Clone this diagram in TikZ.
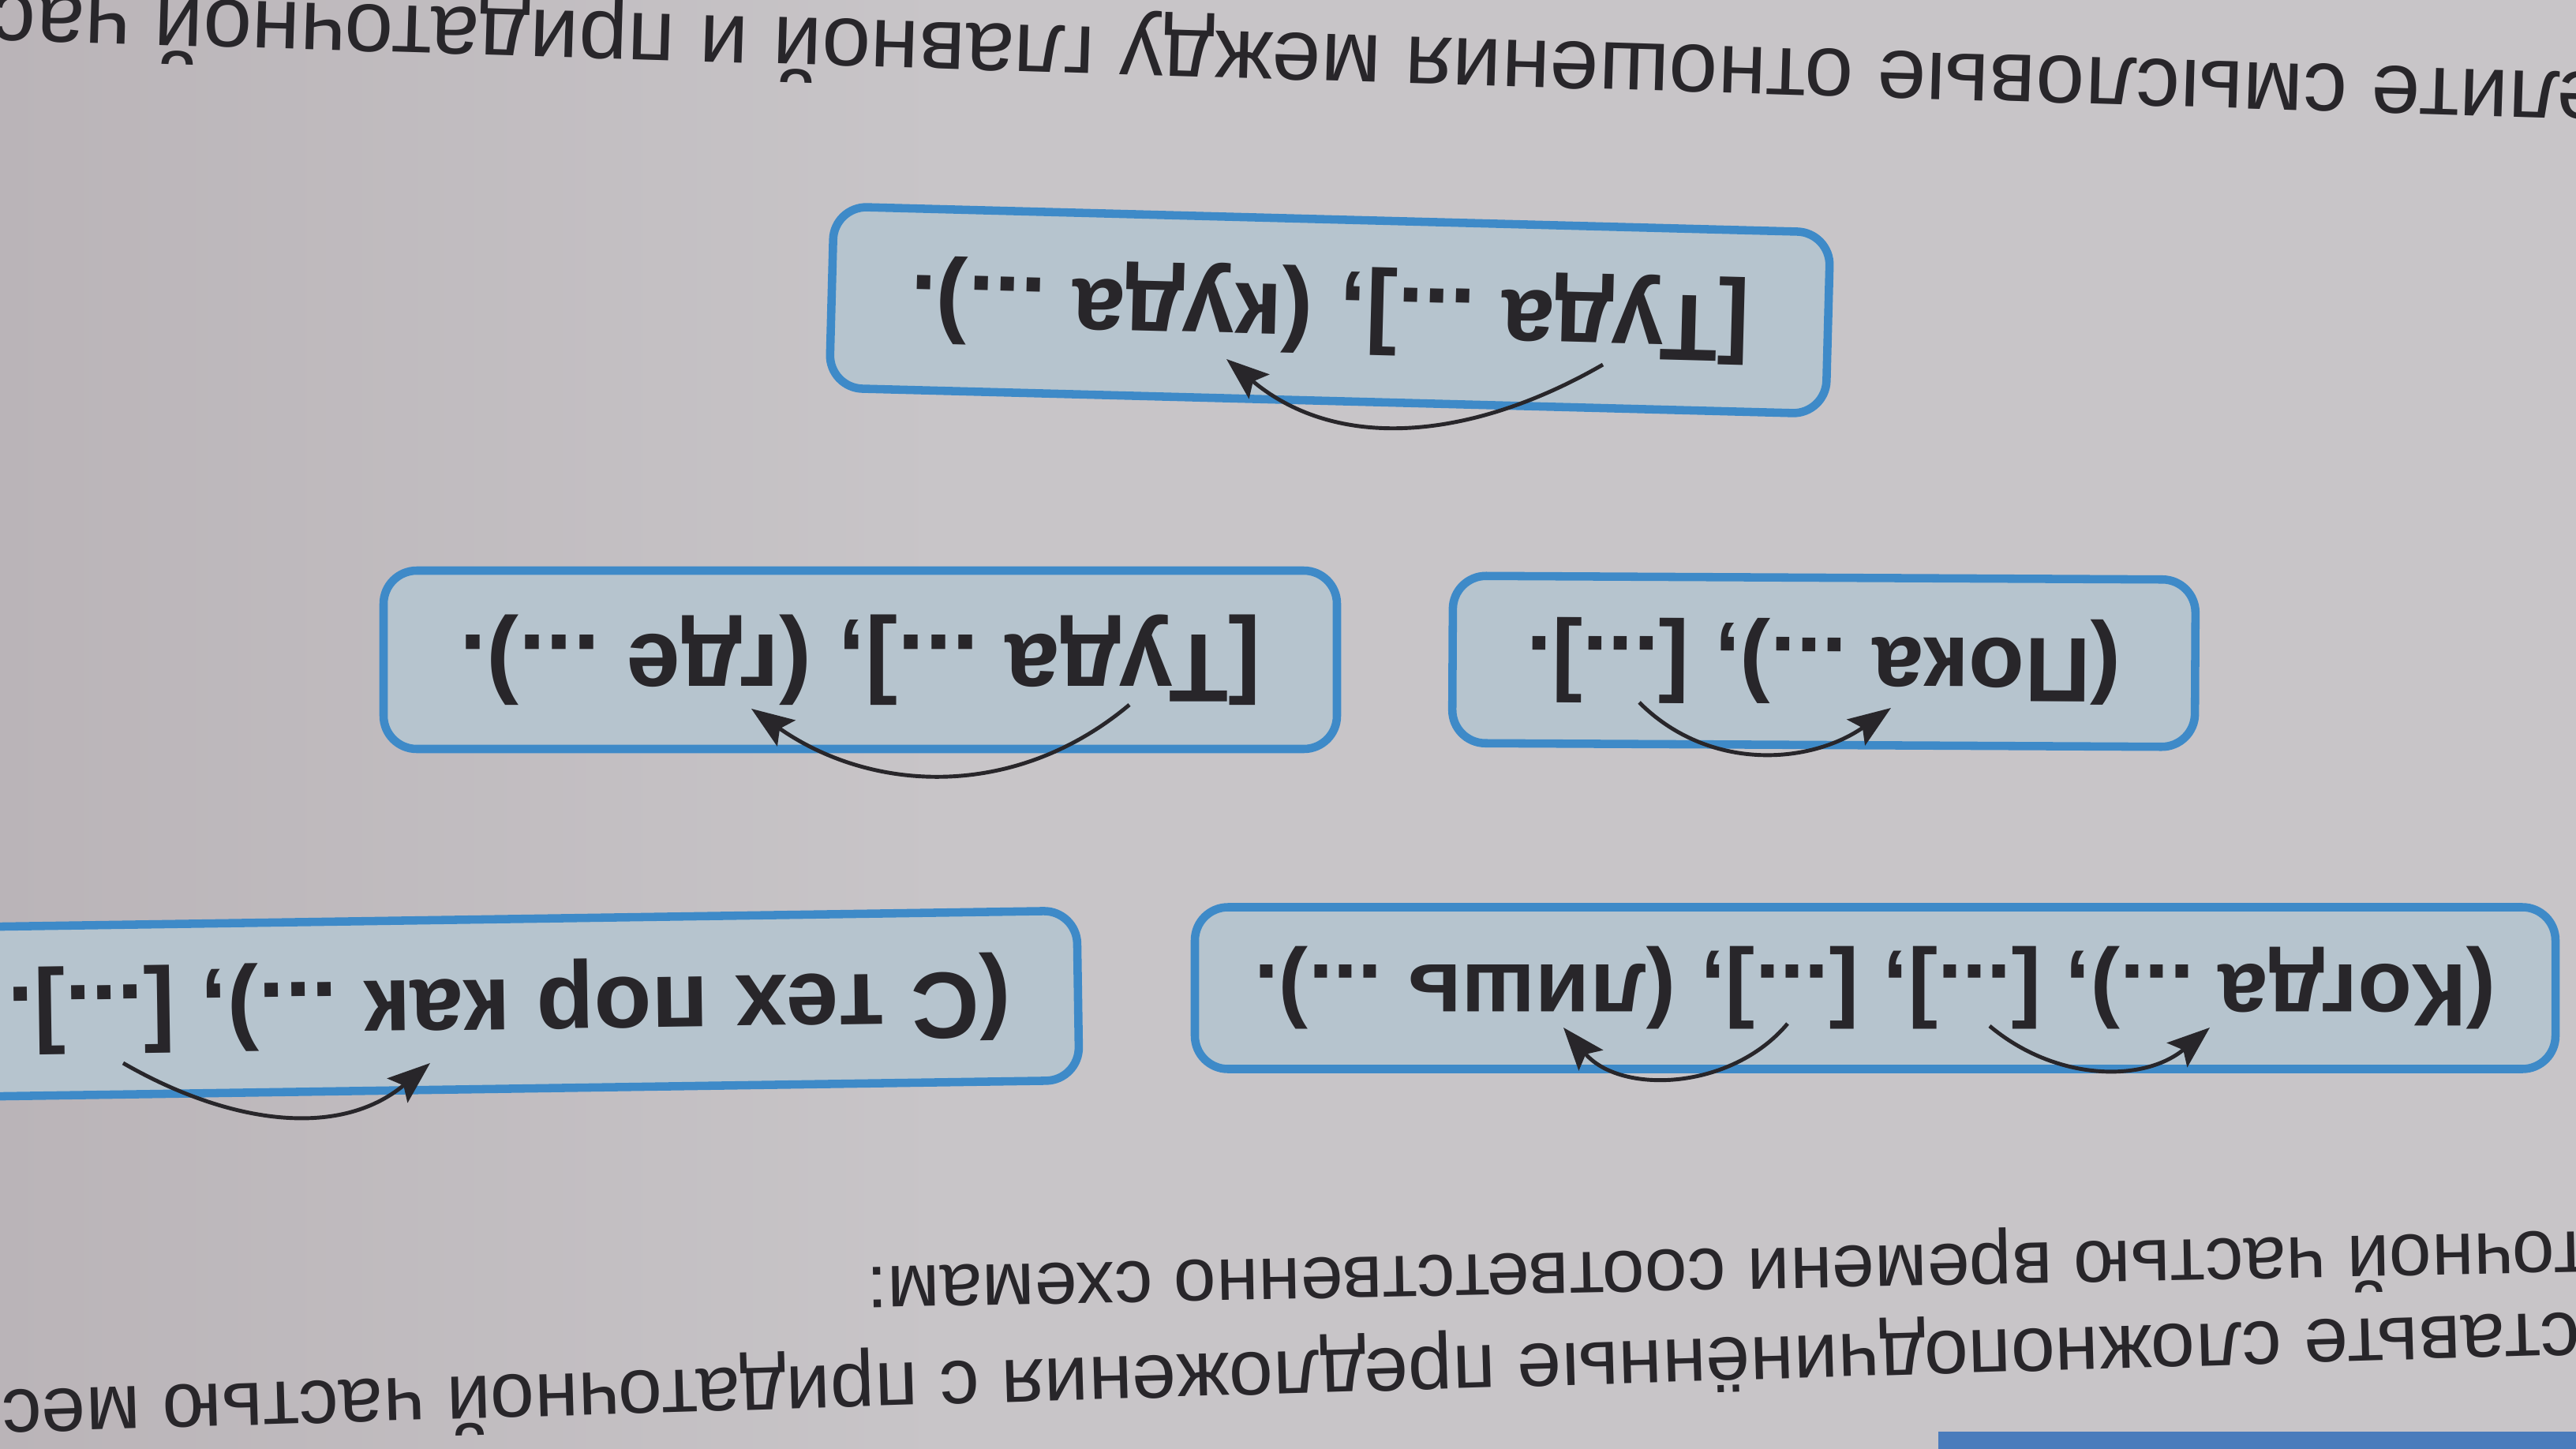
\documentclass[tikz,border=0pt]{standalone}
\usepackage{fontspec}
\setmainfont{Liberation Sans}
\usetikzlibrary{arrows.meta}

\definecolor{paper}{RGB}{200,197,200}
\definecolor{paperdark}{RGB}{186,180,184}
\definecolor{boxfill}{RGB}{182,196,206}
\definecolor{boxline}{RGB}{62,138,200}
\definecolor{ink}{RGB}{40,38,42}
\definecolor{band}{RGB}{74,124,188}

\begin{document}
\begin{tikzpicture}[
    scheme/.style={draw=boxline, line width=3pt, fill=boxfill, rounded corners=0.42cm,
        text=ink, inner sep=0pt},
    task/.style={text=ink, inner sep=0pt, anchor=base west},
    link/.style={draw=ink, line width=1.4pt, -{Stealth[length=5.4mm,width=4mm,inset=1mm]}}
  ]
  % Page
  \useasboundingbox (0,0) rectangle (32.64,-18.36);
  \clip (0,0) rectangle (32.64,-18.36);
  \fill[paper] (0,0) rectangle (32.64,-18.36);
  \shade[left color=paperdark, right color=paper] (0,0) rectangle (12,-18.36);
  \fill[band] (24.56,-18.14) rectangle (32.64,-18.36);

  % Task text (page is upside down)
  \node[task, rotate=178.25, font=\fontsize{31.6}{36}\selectfont] (head) at (33.03,-0.93)
    {елите смысловые отношения между главной и придаточной част};
  \node[task, rotate=181.2, font=\fontsize{27.5}{32}\selectfont] (ask2) at (32.80,-15.60)
    {точной частью времени соответственно схемам:};
  \node[task, rotate=181.74, font=\fontsize{28.6}{34}\selectfont] (ask1) at (32.69,-16.63)
    {ставьте сложноподчинённые предложения с придаточной частью мес};

  % Schemes
  \foreach \name/\x/\y/\w/\h/\rot/\fs/\txt in {
      kuda/16.85/-3.93/12.63/2.30/178.5/34/{[Туда ...], (куда ...).},
      poka/23.11/-8.38/9.41/2.12/179.7/33/{(Пока ...), [...].},
      gde/10.90/-8.36/12.08/2.26/180/35/{[Туда ...], (где ...).},
      kogda/23.76/-12.52/17.24/2.05/180/32/{(Когда ...), [...], [...], (лишь ...).},
      stekh/6.45/-12.72/14.42/2.15/180.85/34/{(С тех пор как ...), [...].}
    }{
      \node[scheme, minimum width=\w cm, minimum height=\h cm, rotate=\rot,
        font=\bfseries\fontsize{\fs}{40}\selectfont] (\name) at (\x,\y) {\txt};
    }

  % Arrows under the schemes
  \coordinate (kuda-s) at (20.31,-4.62);
  \coordinate (kuda-e) at (15.54,-4.55);
  \coordinate (poka-s) at (20.77,-8.90);
  \coordinate (poka-e) at (23.96,-8.97);
  \coordinate (gde-s) at (14.31,-8.93);
  \coordinate (gde-e) at (9.52,-8.98);
  \coordinate (kogda-s1) at (25.21,-13.00);
  \coordinate (kogda-e1) at (28.00,-13.02);
  \coordinate (kogda-s2) at (22.65,-12.97);
  \coordinate (kogda-e2) at (19.81,-13.02);
  \coordinate (stekh-s) at (1.56,-13.47);
  \coordinate (stekh-e) at (5.45,-13.47);

  \draw[link] (kuda-s) to[out=210,in=-40] (kuda-e);
  \draw[link] (poka-s) to[out=-45,in=215] (poka-e);
  \draw[link] (gde-s) to[out=220,in=-35] (gde-e);
  \draw[link] (kogda-s1) to[out=-40,in=220] (kogda-e1);
  \draw[link] (kogda-s2) to[out=230,in=-50] (kogda-e2);
  \draw[link] (stekh-s) to[out=-30,in=220] (stekh-e);

\end{tikzpicture}
\end{document}
